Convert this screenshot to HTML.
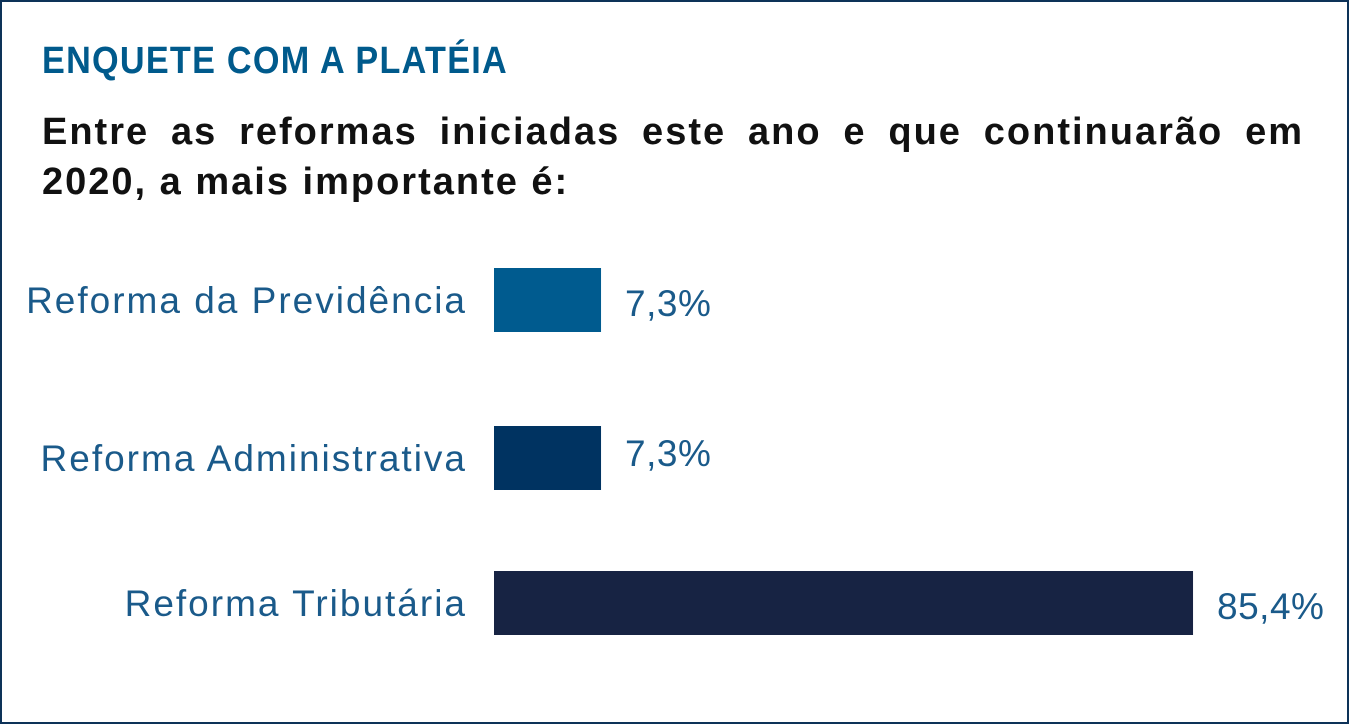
<!DOCTYPE html>
<html><head><meta charset="utf-8"><style>
html,body{margin:0;padding:0;background:#fff;}
#frame{position:absolute;left:0;top:0;width:1345px;height:720px;border:2px solid #0d3258;overflow:hidden;}
#title{position:absolute;left:40px;top:38px;font-family:"Liberation Sans",sans-serif;font-weight:bold;font-size:38px;color:#005a8c;letter-spacing:1.4px;white-space:nowrap;transform:scaleX(0.9);transform-origin:0 0;}
#question{position:absolute;left:40px;top:105px;width:1262px;font-family:"Liberation Sans",sans-serif;font-weight:bold;font-size:38px;line-height:50px;color:#111;letter-spacing:2px;}
#q1{text-align:justify;text-align-last:justify;}
svg text{font-family:"Liberation Sans",sans-serif;}
</style></head><body>
<div id="frame">
<div id="title">ENQUETE COM A PLATÉIA</div>
<div id="question"><div id="q1">Entre as reformas iniciadas este ano e que continuarão em</div><div>2020, a mais importante é:</div></div>
</div>
<svg id="chart" width="1349" height="724" style="position:absolute;left:0;top:0"></svg>
<script>
const categories = ["Reforma da Previdência","Reforma Administrativa","Reforma Tributária"];
const values = [7.3, 7.3, 85.4];
const valueLabels = ["7,3%","7,3%","85,4%"];
const colors = ["#005b8f","#003361","#172343"];
const rowCenters = [300, 458, 603];
const valueDy = [16, 8, 16];
const x0 = 494;
function xScale(v){ return 51.7 + 7.58 * v; }
const svg = document.getElementById('chart');
const NS = "http://www.w3.org/2000/svg";
categories.forEach((c,i)=>{
  const cy = rowCenters[i];
  const w = xScale(values[i]);
  const r = document.createElementNS(NS,'rect');
  r.setAttribute('x',x0); r.setAttribute('y',cy-32);
  r.setAttribute('width',w); r.setAttribute('height',64);
  r.setAttribute('fill',colors[i]);
  
  
  svg.appendChild(r);
  const t = document.createElementNS(NS,'text');
  t.setAttribute('x',467); t.setAttribute('y',cy+13);
  t.setAttribute('text-anchor','end'); t.setAttribute('font-size','37');
  t.setAttribute('letter-spacing','2');
  t.setAttribute('fill','#1a5a8a'); t.textContent = c;
  
  
  svg.appendChild(t);
  const v = document.createElementNS(NS,'text');
  v.setAttribute('x',x0+w+24); v.setAttribute('y',cy+valueDy[i]);
  v.setAttribute('font-size','37'); v.setAttribute('fill','#1a5a8a');
  v.setAttribute('letter-spacing','0.5');
  v.textContent = valueLabels[i];
  
  
  svg.appendChild(v);
});
</script>
</body></html>
